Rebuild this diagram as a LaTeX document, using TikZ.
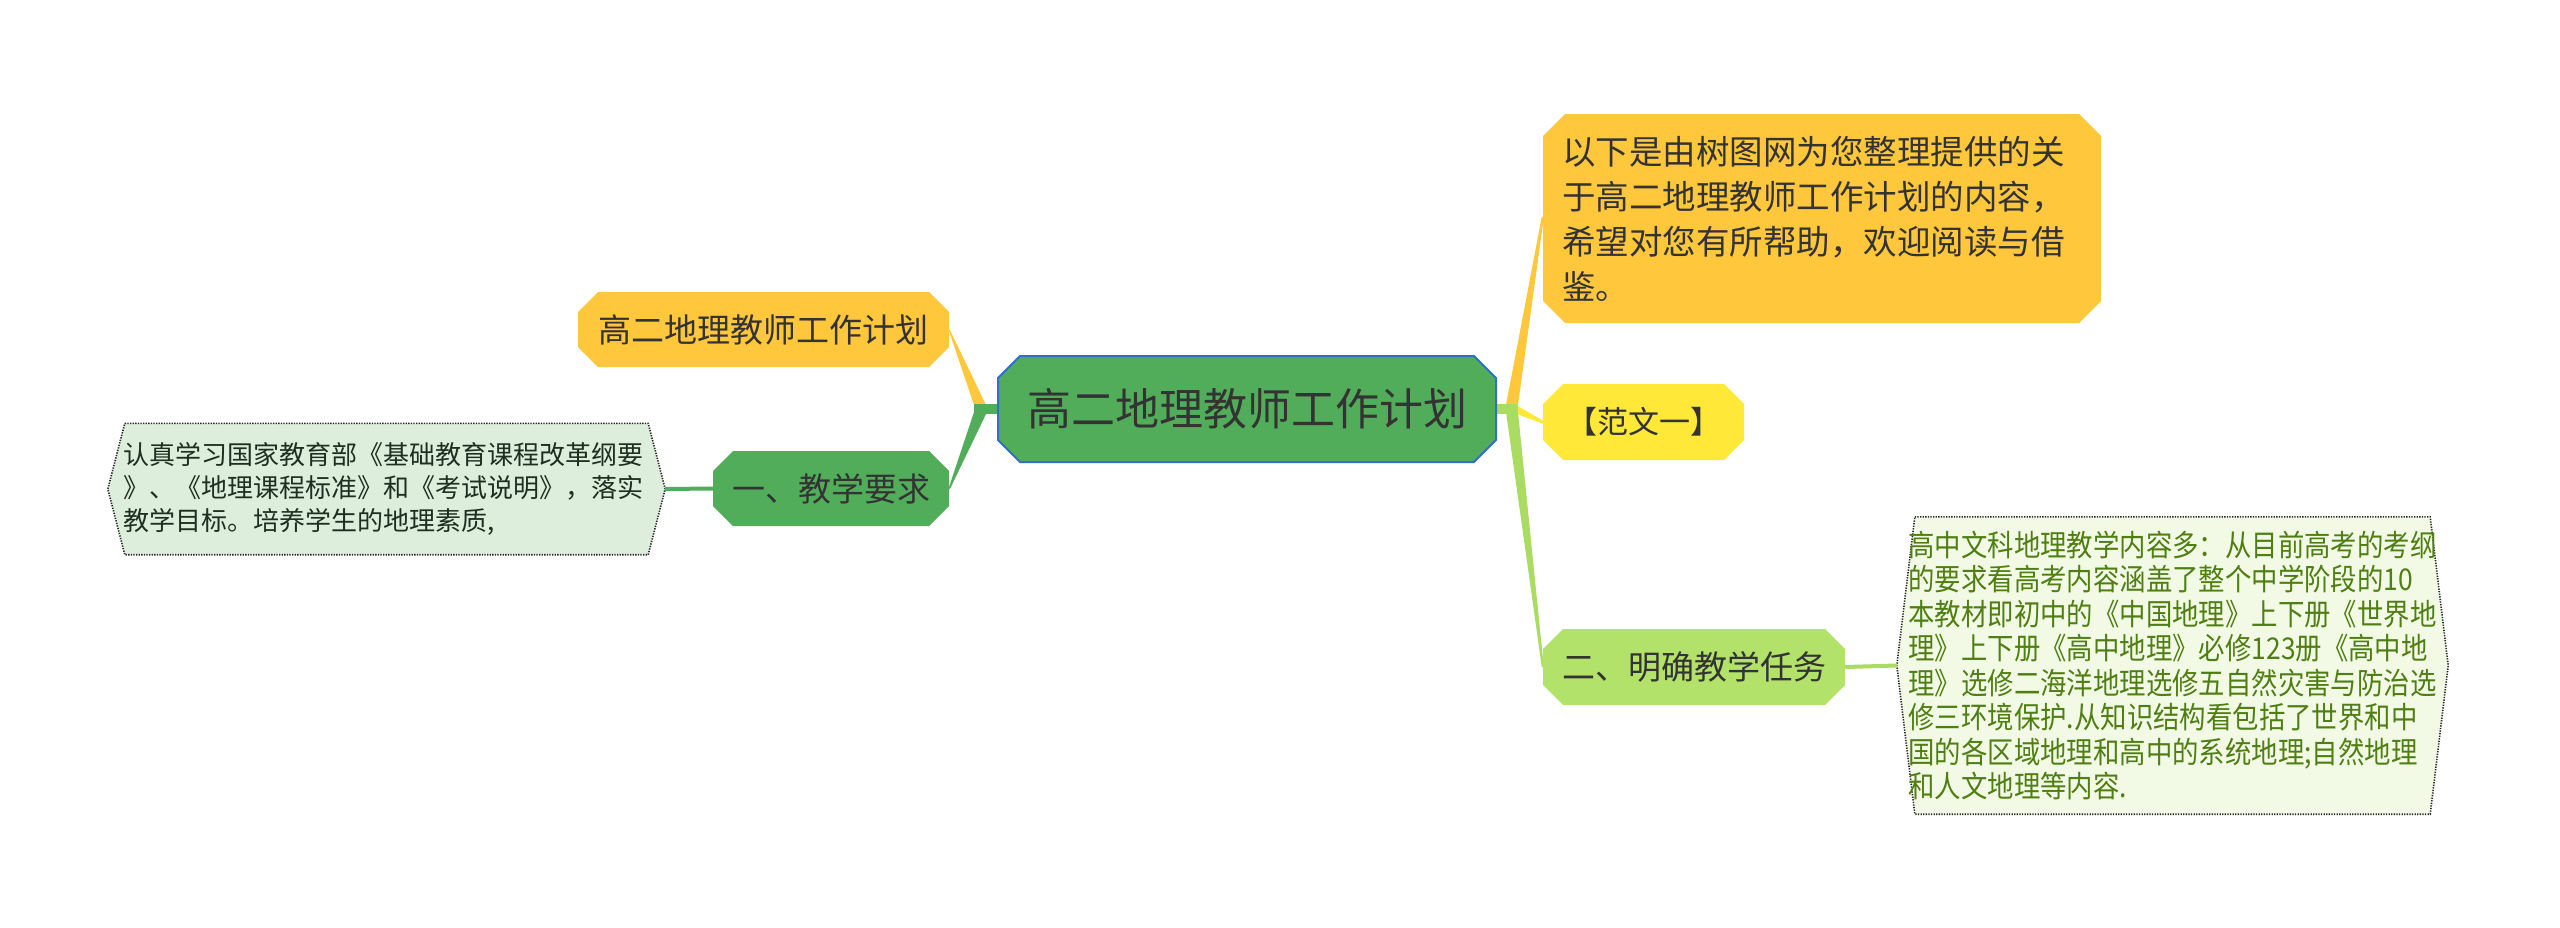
\documentclass[tikz,border=0pt]{standalone}
\usepackage{fontspec}
\setmainfont{Noto Sans CJK SC}
\newfontfamily\cjkn[FakeStretch=0.88]{Noto Sans CJK SC}
\usetikzlibrary{shapes.misc,calc}
\pgfdeclarelayer{back}
\pgfdeclarelayer{bg}
\pgfsetlayers{back,bg,main}
\definecolor{cgreen}{HTML}{52AD5B}
\definecolor{cblue}{HTML}{2E6FD0}
\definecolor{corange}{HTML}{FFC83C}
\definecolor{cyellow}{HTML}{FFE838}
\definecolor{lgreen}{HTML}{ABDC62}
\definecolor{gtwofill}{HTML}{B3E26B}
\definecolor{leafLfill}{HTML}{DDEEDD}
\definecolor{leafRfill}{HTML}{F2FAE5}
\definecolor{txt}{HTML}{333333}
\definecolor{txtR}{HTML}{4F7F12}
\definecolor{txtL}{HTML}{1F2F1F}
\begin{document}
\begin{tikzpicture}[x=1pt,y=-1pt,
  box/.style={chamfered rectangle, chamfered rectangle xsep=10pt, chamfered rectangle ysep=10pt, inner sep=0pt, text=txt},
  leafbox/.style={inner sep=0pt, align=left},
  leafline/.style={draw=black!85, dash pattern=on 1.3pt off 1.3pt, line width=1.6pt},
  midfont/.style={font=\fontsize{33}{40}\selectfont}
]
\useasboundingbox (0,0) rectangle (2560,927);
\begin{pgfonlayer}{back}
\fill[white] (0,0) rectangle (2560,927);
\end{pgfonlayer}

% nodes
\node[box, fill=cgreen, draw=cblue, line width=2pt, minimum width=498pt, minimum height=106pt,
  chamfered rectangle xsep=11pt, chamfered rectangle ysep=11pt,
  font=\fontsize{44}{50}\selectfont] (c) at (1247,409) {高二地理教师工作计划};
\node[box, fill=corange, minimum width=371pt, minimum height=75pt, midfont] (o1) at (763.5,329.5) {高二地理教师工作计划};
\node[box, fill=cgreen, minimum width=236pt, minimum height=75pt, midfont] (g1) at (831,488.5) {一、教学要求};
\node[box, fill=corange, minimum width=558pt, minimum height=209pt, align=left, text width=520pt,
  chamfered rectangle xsep=11pt, chamfered rectangle ysep=11pt,
  font=\fontsize{33.5}{45}\selectfont] (o2) at (1822,218.5)
  {以下是由树图网为您整理提供的关\\于高二地理教师工作计划的内容，\\希望对您有所帮助，欢迎阅读与借\\鉴。};
\node[box, fill=cyellow, minimum width=201pt, minimum height=76pt, font=\fontsize{31}{38}\selectfont] (yb) at (1643.5,422) {【范文一】};
\node[box, fill=gtwofill, minimum width=302pt, minimum height=76pt, midfont] (g2) at (1694,667) {二、明确教学任务};

\node[leafbox, minimum width=557pt, minimum height=131pt, text width=526pt, text=txtL,
  font=\fontsize{26}{33}\selectfont] (leafL) at (386.5,489)
  {认真学习国家教育部《基础教育课程改革纲要\\》、《地理课程标准》和《考试说明》，落实\\教学目标。培养学生的地理素质,};
\node[leafbox, minimum width=551pt, minimum height=297pt, text width=528pt, text=txtR,
  font=\cjkn\fontsize{30}{34.5}\selectfont] (leafR) at (2172.5,665.5)
  {高中文科地理教学内容多：从目前高考的考纲\\的要求看高考内容涵盖了整个中学阶段的10\\本教材即初中的《中国地理》上下册《世界地\\理》上下册《高中地理》必修123册《高中地\\理》选修二海洋地理选修五自然灾害与防治选\\修三环境保护.从知识结构看包括了世界和中\\国的各区域地理和高中的系统地理;自然地理\\和人文地理等内容.};

\coordinate (jl) at (980,409);
\coordinate (jr) at (1512,409);

\begin{pgfonlayer}{bg}
% leaf shapes
\path[fill=leafLfill, leafline] ($(leafL.north west)+(17,0)$) -- ($(leafL.north east)+(-17,0)$) -- (leafL.east)
  -- ($(leafL.south east)+(-17,0)$) -- ($(leafL.south west)+(17,0)$) -- (leafL.west) -- cycle;
\path[fill=leafRfill, leafline] ($(leafR.north west)+(18,0)$) -- ($(leafR.north east)+(-18,0)$) -- (leafR.east)
  -- ($(leafR.south east)+(-18,0)$) -- ($(leafR.south west)+(18,0)$) -- (leafR.west) -- cycle;
% left connectors
\fill[corange] ($(jl)+(-6,-4)$) -- ($(jl)+(6,-4)$) -- ($(o1.east)+(1,1)$) -- ($(o1.east)+(-1,-1)$) -- cycle;
\fill[cgreen] ($(jl)+(-6,3)$) -- ($(jl)+(7,3)$) -- ($(g1.east)+(1,0)$) -- ($(g1.east)+(-1,1)$) -- cycle;
\fill[cgreen] ($(jl)+(-6,-5)$) rectangle ($(c.west)+(2,5)$);
\draw[cgreen, line width=4pt] (g1.west) -- (leafL.east);
% right connectors
\fill[corange] ($(jr)+(-6,-4)$) -- ($(jr)+(6,-4)$) -- ($(o2.west)+(1,-1)$) -- ($(o2.west)+(-1,-2)$) -- cycle;
\fill[cyellow] ($(jr)+(2,-5)$) -- ($(jr)+(2,4)$) -- ($(yb.west)+(1,2)$) -- ($(yb.west)+(1,-1)$) -- cycle;
\fill[lgreen] ($(jr)+(-6,3)$) -- ($(jr)+(6,3)$) -- ($(g2.west)+(1,0)$) -- ($(g2.west)+(-1,0)$) -- cycle;
\fill[lgreen] ($(c.east)+(-2,-5)$) rectangle ($(jr)+(6,5)$);
\draw[lgreen, line width=4pt] (g2.east) -- (leafR.west);
\end{pgfonlayer}
\end{tikzpicture}
\end{document}
